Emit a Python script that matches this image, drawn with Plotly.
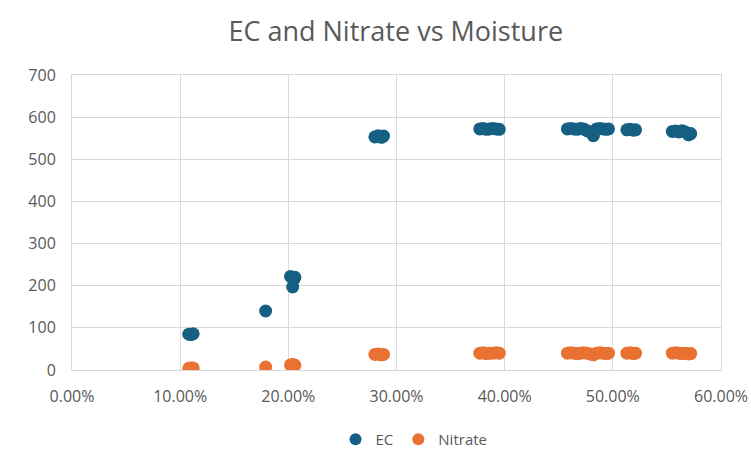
import plotly.graph_objects as go

# Soil moisture readings (fraction) with matching EC and nitrate values
moisture = [
    0.108, 0.110, 0.112,
    0.179,
    0.202, 0.204, 0.206, 0.205, 0.204,
    0.280, 0.283, 0.286, 0.288,
    0.377, 0.380, 0.383, 0.386, 0.389, 0.392, 0.395,
    0.458, 0.461, 0.464, 0.467, 0.470, 0.473, 0.476, 0.479, 0.482,
    0.485, 0.488, 0.491, 0.494, 0.496,
    0.513, 0.516, 0.519, 0.521,
    0.555, 0.558, 0.561, 0.564, 0.567, 0.570, 0.572,
]
ec = [
    85, 84, 86,
    140,
    222, 218, 220, 215, 197,
    553, 556, 552, 555,
    572, 573, 571, 572, 573, 572, 571,
    572, 573, 572, 571, 573, 572, 568, 565, 556,
    572, 573, 572, 571, 572,
    570, 571, 569, 570,
    566, 567, 565, 568, 565, 558, 561,
]
nitrate = [
    4, 5, 5,
    7,
    12, 13, 11, 12, 12,
    37, 38, 36, 37,
    40, 41, 39, 40, 40, 41, 40,
    40, 41, 40, 39, 40, 41, 40, 38, 36,
    40, 41, 40, 39, 40,
    40, 41, 39, 40,
    40, 41, 40, 39, 40, 38, 39,
]

EC_COLOR = "#156082"
NITRATE_COLOR = "#E97132"
TEXT_COLOR = "#595959"
GRID_COLOR = "#d9d9d9"
FONT = "Open Sans"

fig = go.Figure()
fig.add_trace(go.Scatter(
    x=moisture, y=ec, mode="markers", name="EC",
    marker=dict(color=EC_COLOR, size=13),
))
fig.add_trace(go.Scatter(
    x=moisture, y=nitrate, mode="markers", name="Nitrate",
    marker=dict(color=NITRATE_COLOR, size=13),
))

fig.update_layout(
    width=751, height=454,
    margin=dict(l=72, r=30, t=75, b=84, autoexpand=False),
    paper_bgcolor="white", plot_bgcolor="white",
    font=dict(family=FONT, color=TEXT_COLOR, size=16),
    title=dict(
        text="EC and Nitrate vs Moisture",
        x=0.527, xanchor="center", y=0.93, yanchor="middle",
        font=dict(family=FONT, size=27, color=TEXT_COLOR),
    ),
    showlegend=True,
    legend=dict(
        orientation="h", x=0.527, xanchor="center", y=-0.18, yanchor="top",
        font=dict(size=15, color=TEXT_COLOR), itemsizing="constant",
        itemwidth=30, tracegroupgap=0,
    ),
    xaxis=dict(
        range=[0, 0.6], dtick=0.1, tick0=0, tickformat=".2%",
        showgrid=True, gridcolor=GRID_COLOR, gridwidth=1,
        showline=True, linecolor=GRID_COLOR, mirror=True,
        zeroline=False, ticks="", ticklen=0, ticklabelstandoff=12,
        automargin=False,
    ),
    yaxis=dict(
        range=[0, 700], dtick=100, tick0=0,
        showgrid=True, gridcolor=GRID_COLOR, gridwidth=1,
        showline=True, linecolor=GRID_COLOR, mirror=True,
        zeroline=False, ticks="", ticklen=0, ticklabelstandoff=12,
        automargin=False,
    ),
)

fig.write_html("out.html")
